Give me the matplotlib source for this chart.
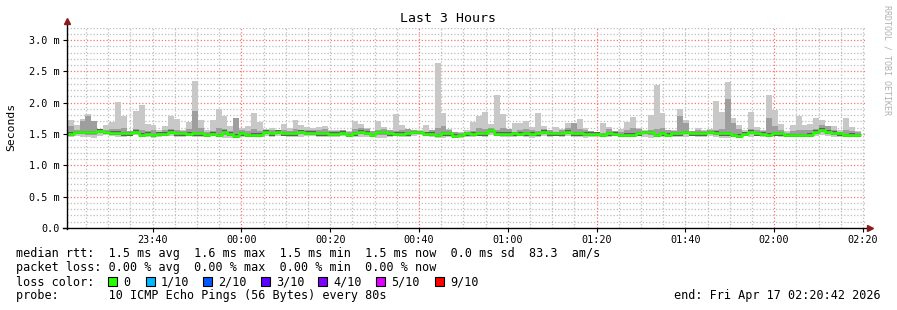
import numpy as np
import matplotlib.pyplot as plt
from matplotlib.patches import Rectangle

# smoke data, one value per 80 s step (milliseconds)
ping_max = [1.72, 1.64, 1.74, 1.82, 1.71, 1.56, 1.64, 1.69, 2.01, 1.79,
            1.55, 1.87, 1.96, 1.66, 1.64, 1.56, 1.62, 1.79, 1.74, 1.56,
            1.69, 2.35, 1.73, 1.56, 1.73, 1.90, 1.79, 1.62, 1.75, 1.59,
            1.62, 1.84, 1.69, 1.58, 1.60, 1.57, 1.66, 1.60, 1.73, 1.64,
            1.61, 1.60, 1.61, 1.62, 1.56, 1.56, 1.55, 1.55, 1.71, 1.66,
            1.60, 1.51, 1.71, 1.61, 1.54, 1.82, 1.64, 1.55, 1.56, 1.56,
            1.64, 1.56, 2.64, 1.84, 1.58, 1.52, 1.54, 1.57, 1.69, 1.79,
            1.85, 1.66, 2.12, 1.82, 1.56, 1.68, 1.67, 1.71, 1.61, 1.84,
            1.62, 1.57, 1.61, 1.58, 1.68, 1.62, 1.74, 1.60, 1.53, 1.53,
            1.68, 1.61, 1.55, 1.58, 1.69, 1.77, 1.60, 1.56, 1.80, 2.28,
            1.84, 1.56, 1.56, 1.90, 1.72, 1.55, 1.60, 1.57, 1.58, 2.03,
            1.85, 2.33, 1.76, 1.64, 1.57, 1.85, 1.61, 1.56, 2.12, 1.88,
            1.66, 1.55, 1.64, 1.79, 1.64, 1.66, 1.75, 1.72, 1.60, 1.62,
            1.56, 1.75, 1.61, 1.55]

ping_upper = [1.62, 1.56, 1.71, 1.78, 1.70, 1.55, 1.56, 1.58, 1.58, 1.60,
              1.55, 1.58, 1.56, 1.55, 1.56, 1.53, 1.56, 1.58, 1.56, 1.55,
              1.58, 1.87, 1.60, 1.54, 1.55, 1.60, 1.58, 1.55, 1.75, 1.56,
              1.55, 1.58, 1.55, 1.56, 1.57, 1.55, 1.56, 1.55, 1.58, 1.57,
              1.56, 1.56, 1.57, 1.58, 1.55, 1.55, 1.56, 1.53, 1.58, 1.60,
              1.58, 1.55, 1.56, 1.58, 1.56, 1.55, 1.57, 1.58, 1.57, 1.54,
              1.54, 1.56, 1.60, 1.62, 1.57, 1.53, 1.52, 1.54, 1.55, 1.60,
              1.58, 1.60, 1.56, 1.60, 1.58, 1.54, 1.56, 1.58, 1.56, 1.55,
              1.58, 1.56, 1.54, 1.56, 1.60, 1.67, 1.58, 1.56, 1.55, 1.52,
              1.52, 1.58, 1.55, 1.54, 1.56, 1.60, 1.58, 1.55, 1.56, 1.58,
              1.60, 1.56, 1.55, 1.78, 1.67, 1.55, 1.56, 1.55, 1.56, 1.57,
              1.58, 2.06, 1.67, 1.58, 1.54, 1.58, 1.56, 1.55, 1.76, 1.62,
              1.56, 1.52, 1.55, 1.56, 1.56, 1.57, 1.58, 1.64, 1.62, 1.57,
              1.54, 1.56, 1.55, 1.53]

median = [1.50, 1.53, 1.53, 1.53, 1.53, 1.55, 1.53, 1.52, 1.52, 1.51,
          1.51, 1.54, 1.49, 1.50, 1.48, 1.50, 1.50, 1.54, 1.51, 1.51,
          1.50, 1.51, 1.51, 1.48, 1.50, 1.48, 1.54, 1.50, 1.47, 1.51,
          1.48, 1.49, 1.49, 1.54, 1.51, 1.54, 1.51, 1.51, 1.51, 1.54,
          1.52, 1.52, 1.51, 1.51, 1.50, 1.50, 1.52, 1.48, 1.51, 1.54,
          1.52, 1.48, 1.53, 1.53, 1.51, 1.50, 1.50, 1.51, 1.53, 1.53,
          1.50, 1.50, 1.48, 1.51, 1.51, 1.47, 1.48, 1.51, 1.50, 1.51,
          1.51, 1.56, 1.50, 1.50, 1.50, 1.51, 1.50, 1.51, 1.50, 1.51,
          1.54, 1.51, 1.51, 1.51, 1.54, 1.51, 1.51, 1.50, 1.50, 1.50,
          1.48, 1.51, 1.50, 1.48, 1.49, 1.49, 1.51, 1.53, 1.53, 1.48,
          1.51, 1.49, 1.51, 1.51, 1.53, 1.51, 1.51, 1.51, 1.53, 1.52,
          1.51, 1.51, 1.48, 1.47, 1.50, 1.54, 1.51, 1.50, 1.49, 1.51,
          1.51, 1.48, 1.48, 1.48, 1.48, 1.49, 1.54, 1.57, 1.54, 1.52,
          1.51, 1.48, 1.49, 1.48]

ping_min = [1.46, 1.47, 1.46, 1.45, 1.44, 1.47, 1.48, 1.47, 1.46, 1.45,
            1.47, 1.48, 1.45, 1.46, 1.44, 1.46, 1.47, 1.47, 1.45, 1.46,
            1.47, 1.45, 1.46, 1.46, 1.47, 1.46, 1.44, 1.43, 1.46, 1.45,
            1.46, 1.46, 1.45, 1.47, 1.46, 1.47, 1.47, 1.45, 1.46, 1.46,
            1.47, 1.47, 1.46, 1.45, 1.46, 1.46, 1.47, 1.45, 1.45, 1.46,
            1.46, 1.45, 1.44, 1.44, 1.46, 1.47, 1.46, 1.45, 1.47, 1.48,
            1.47, 1.46, 1.44, 1.43, 1.45, 1.45, 1.44, 1.45, 1.46, 1.47,
            1.46, 1.48, 1.47, 1.46, 1.45, 1.46, 1.47, 1.46, 1.44, 1.46,
            1.47, 1.46, 1.47, 1.46, 1.47, 1.46, 1.45, 1.44, 1.45, 1.46,
            1.45, 1.46, 1.47, 1.45, 1.46, 1.46, 1.47, 1.46, 1.43, 1.46,
            1.46, 1.47, 1.45, 1.46, 1.46, 1.47, 1.45, 1.46, 1.47, 1.46,
            1.44, 1.44, 1.45, 1.46, 1.47, 1.46, 1.47, 1.46, 1.46, 1.47,
            1.46, 1.46, 1.47, 1.47, 1.46, 1.46, 1.47, 1.48, 1.47, 1.45,
            1.46, 1.45, 1.46, 1.45]

# time axis in minutes after 23:00
t_start = 20.7       # 23:20:42
t_end = 200.7        # 02:20:42
t_first = 20.85
step_min = 80 / 60.0

loss_labels = ["0", "1/10", "2/10", "3/10", "4/10", "5/10", "9/10"]
loss_colors = ["#26ff00", "#00b8ff", "#0059ff", "#5e00ff", "#7e00ff", "#dd00ff", "#ff0000"]

mono = "DejaVu Sans Mono"
W, H = 897, 310

fig = plt.figure(figsize=(W / 100, H / 100), dpi=100)
fig.patch.set_facecolor("white")
ax = fig.add_axes([67 / W, 1 - 228 / H, (866 - 67) / W, (228 - 27.5) / H])
ax.set_xlim(t_start, t_end)
ax.set_ylim(0, 3.2)
for s in ax.spines.values():
    s.set_visible(False)

# grid
minor_c = "#bdbdbd"
major_c = "#ff7070"
for v in np.arange(0.1, 3.21, 0.1):
    major = abs(v / 0.5 - round(v / 0.5)) < 1e-6
    ax.axhline(v, color=major_c if major else minor_c, lw=0.9, dashes=(1, 1.6), zorder=0)
for m in range(25, 201, 5):
    major = (m - 20) % 40 == 0
    ax.axvline(m, color=major_c if major else minor_c, lw=0.9, dashes=(1, 1.6), zorder=0)

# smoke
n = len(median)
edges = t_first + np.arange(n + 1) * step_min
hi = np.maximum(np.array(ping_max), np.array(median))
up = np.maximum(np.array(ping_upper), np.array(median))
lo = np.array(ping_min)
med = np.array(median)
xs = np.repeat(edges, 2)[1:-1]

def steps(a):
    return np.repeat(a, 2)

ax.fill_between(xs, steps(lo), steps(hi), color="#c8c8c8", lw=0, zorder=2)
ax.fill_between(xs, steps((lo + med) / 2), steps(up), color="#9e9e9e", lw=0, zorder=3)
ax.fill_between(xs, steps(med - 0.035), steps(med + 0.025), color="#606060", lw=0, zorder=4)
ax.plot(xs, steps(med), color="#26ff00", lw=1.9, zorder=5, solid_capstyle="butt")

# axes lines with arrows
ax.plot([t_start, t_start], [-0.02, 3.28], color="black", lw=1, clip_on=False, zorder=6)
ax.plot([t_start - 1.0, t_end + 0.8], [0, 0], color="black", lw=1, clip_on=False, zorder=6)
ax.plot([t_start], [3.30], marker="^", color="#8b1a1a", ms=4, clip_on=False, zorder=7)
ax.plot([t_end + 0.9], [0], marker=">", color="#8b1a1a", ms=4, clip_on=False, zorder=7)

# ticks
yt = np.arange(0, 3.01, 0.5)
ax.set_yticks(yt)
ax.set_yticklabels(["0.0"] + ["%.1f m" % v for v in yt[1:]], fontfamily=mono, fontsize=7.3)
xt = list(range(40, 201, 20))
ax.set_xticks(xt)
ax.set_xticklabels(["%02d:%02d" % (((m // 60) + 23) % 24, m % 60) for m in xt],
                   fontfamily=mono, fontsize=7.3)
ax.tick_params(axis="both", which="major", length=3, width=0.8, pad=2)

fig.text(448 / W, 1 - 19 / H, "Last 3 Hours", family=mono, fontsize=9.5,
         ha="center", va="center")
fig.text(11 / W, 1 - 127 / H, "Seconds", family=mono, fontsize=8.2,
         rotation=90, ha="center", va="center")
fig.text(887 / W, 1 - 60 / H, "RRDTOOL / TOBI OETIKER", family=mono, fontsize=6,
         rotation=270, ha="center", va="center", color="#b0b0b0")

# legend block
fs = 8.5
def line(x, y, s, **kw):
    fig.text(x / W, 1 - y / H, s, family=mono, fontsize=fs, ha="left", va="center", **kw)

line(16, 254, "median rtt:  1.5 ms avg  1.6 ms max  1.5 ms min  1.5 ms now  0.0 ms sd  83.3  am/s")
line(16, 268, "packet loss: 0.00 % avg  0.00 % max  0.00 % min  0.00 % now")
line(16, 282, "loss color:")
box_x = [108, 146, 203, 261, 318, 376, 435]
for bx, lab, c in zip(box_x, loss_labels, loss_colors):
    fig.patches.append(Rectangle((bx / W, 1 - 286 / H), 9 / W, 9 / H, transform=fig.transFigure,
                                 facecolor=c, edgecolor="black", lw=0.8))
    line(bx + 15, 282, lab)
line(16, 296, "probe:       10 ICMP Echo Pings (56 Bytes) every 80s")
fig.text(881 / W, 1 - 296 / H, "end: Fri Apr 17 02:20:42 2026", family=mono, fontsize=fs,
         ha="right", va="center")

fig.savefig("out.png", dpi=100)
